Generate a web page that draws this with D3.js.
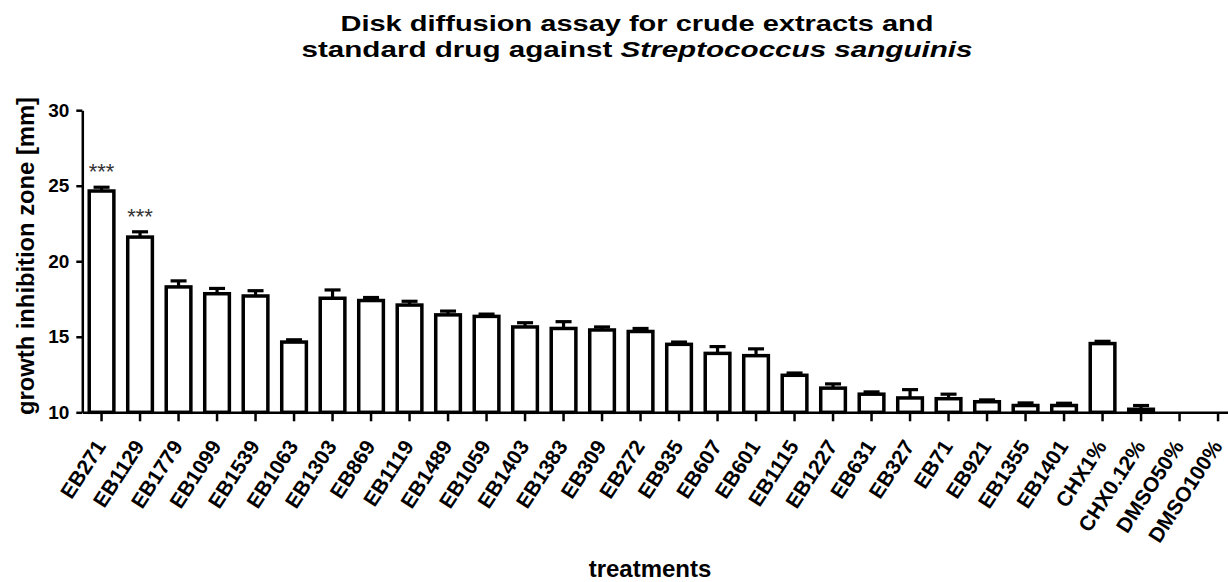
<!DOCTYPE html>
<html>
<head>
<meta charset="utf-8">
<script src="https://cdn.jsdelivr.net/npm/d3@7"></script>
<style>
  body { margin: 0; background: #fff; }
  svg text { font-family: "Liberation Sans", Arial, sans-serif; }
</style>
</head>
<body>
<svg id="chart"></svg>
<script>
// treatments, mean zone and SD
const categories = ["EB271", "EB1129", "EB1779", "EB1099", "EB1539", "EB1063", "EB1303", "EB869",
  "EB1119", "EB1489", "EB1059", "EB1403", "EB1383", "EB309", "EB272", "EB935", "EB607", "EB601",
  "EB1115", "EB1227", "EB631", "EB327", "EB71", "EB921", "EB1355", "EB1401", "CHX1%", "CHX0.12%",
  "DMSO50%", "DMSO100%"];
const means = [24.65, 21.6, 18.3, 17.85, 17.7, 14.65, 17.55, 17.4, 17.1, 16.45, 16.35, 15.65, 15.55,
  15.45, 15.35, 14.5, 13.9, 13.75, 12.45, 11.6, 11.2, 10.95, 10.9, 10.7, 10.45, 10.45, 14.55, 10.2, 0, 0];
const errors = [0.25, 0.35, 0.4, 0.35, 0.35, 0.15, 0.55, 0.2, 0.25, 0.25, 0.15, 0.28, 0.45, 0.2, 0.2,
  0.15, 0.45, 0.45, 0.15, 0.28, 0.15, 0.55, 0.3, 0.12, 0.17, 0.15, 0.15, 0.25, 0, 0];
const significance = ["***", "***"];
const yTicks = [10, 15, 20, 25, 30];

var width = 1228, height = 582;
var svg = d3.select("#chart").attr("width", width).attr("height", height);

var x = d3.scaleBand()
  .domain(categories)
  .range([82.3, 82.3 + 30 * 38.5])
  .paddingInner(0.36)
  .paddingOuter(0.18);

var y = d3.scaleLinear().domain([10, 30]).range([412.3, 110.2]);

var data = categories.map(function(c, i) {
  return {cat: c, mean: means[i], err: errors[i], star: significance[i] || ""};
});
var cx = function(d) { return x(d.cat) + x.bandwidth() / 2; };

// bars (values at or below the axis floor are not visible)
var shown = data.filter(function(d) { return d.mean > 10; });

svg.append("g").selectAll("rect")
  .data(shown)
  .enter().append("rect")
    .attr("x", function(d) { return x(d.cat); })
    .attr("y", function(d) { return y(d.mean); })
    .attr("width", x.bandwidth())
    .attr("height", function(d) { return y(10) - y(d.mean); })
    .attr("fill", "#fff")
    .attr("stroke", "#000")
    .attr("stroke-width", 3.5);

// error bars (upper only)
var eb = svg.append("g").attr("stroke", "#000").attr("stroke-width", 3.2);
eb.selectAll("line.v")
  .data(shown)
  .enter().append("line")
    .attr("class", "v")
    .attr("x1", cx).attr("x2", cx)
    .attr("y1", function(d) { return y(d.mean); })
    .attr("y2", function(d) { return y(d.mean + d.err); });
eb.selectAll("line.cap")
  .data(shown)
  .enter().append("line")
    .attr("class", "cap")
    .attr("x1", function(d) { return cx(d) - 8; })
    .attr("x2", function(d) { return cx(d) + 8; })
    .attr("y1", function(d) { return y(d.mean + d.err); })
    .attr("y2", function(d) { return y(d.mean + d.err); });

// significance stars
svg.append("g").selectAll("text")
  .data(data.filter(function(d) { return d.star; }))
  .enter().append("text")
    .attr("x", cx)
    .attr("y", function(d) { return y(d.mean + d.err) - 8; })
    .attr("text-anchor", "middle")
    .style("font-size", "22px")
    .style("fill", "#333")
    .text(function(d) { return d.star; });

// y axis
var yAxis = svg.append("g")
  .attr("transform", "translate(82.3,0)")
  .call(d3.axisLeft(y).tickValues(yTicks).tickSize(6).tickSizeOuter(0).tickPadding(7));
yAxis.selectAll("path, line").attr("stroke", "#000").attr("stroke-width", 2.5);
yAxis.selectAll("text").style("font-size", "19px").style("font-weight", "bold").attr("fill", "#000");

// x axis
var xAxis = svg.append("g")
  .attr("transform", "translate(0,412.3)")
  .call(d3.axisBottom(x).tickSize(9).tickSizeOuter(0));
xAxis.selectAll("path, line").attr("stroke", "#000").attr("stroke-width", 2.5);
xAxis.selectAll("text")
  .attr("text-anchor", "end")
  .attr("dy", 0)
  .attr("y", 0)
  .attr("transform", "translate(5,34) rotate(-57)")
  .style("font-size", "21px")
  .style("font-weight", "bold")
  .attr("fill", "#000");

// titles
svg.append("text")
  .attr("x", 637).attr("y", 31)
  .attr("text-anchor", "middle")
  .attr("textLength", 593)
  .attr("lengthAdjust", "spacingAndGlyphs")
  .style("font-size", "22px")
  .style("font-weight", "bold")
  .text("Disk diffusion assay for crude extracts and");
var t2 = svg.append("text")
  .attr("x", 637).attr("y", 57)
  .attr("text-anchor", "middle")
  .attr("textLength", 671)
  .attr("lengthAdjust", "spacingAndGlyphs")
  .style("font-size", "22px")
  .style("font-weight", "bold");
t2.append("tspan").text("standard drug against ");
t2.append("tspan").style("font-style", "italic").text("Streptococcus sanguinis");

svg.append("text")
  .attr("transform", "translate(34,256) rotate(-90)")
  .attr("text-anchor", "middle")
  .attr("textLength", 318)
  .attr("lengthAdjust", "spacingAndGlyphs")
  .style("font-size", "24px")
  .style("font-weight", "bold")
  .text("growth inhibition zone [mm]");

svg.append("text")
  .attr("x", 650).attr("y", 577)
  .attr("text-anchor", "middle")
  .style("font-size", "24px")
  .style("font-weight", "bold")
  .text("treatments");
</script>
</body>
</html>
